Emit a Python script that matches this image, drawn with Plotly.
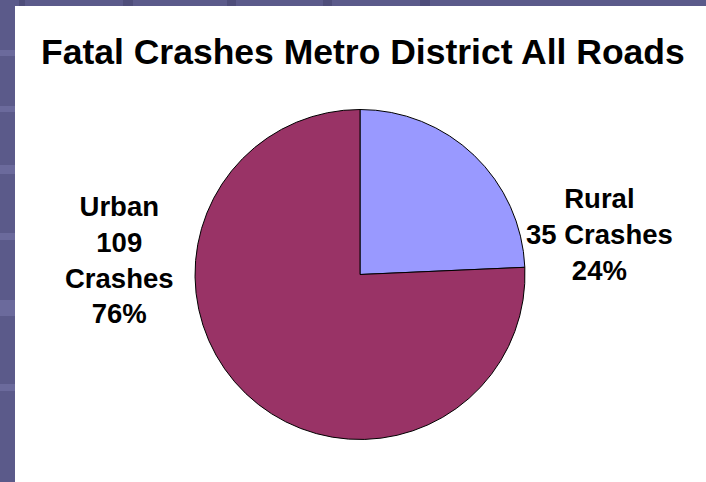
import plotly.graph_objects as go

# Fatal crash counts by road type
labels = ["Rural", "Urban"]
crashes = [35, 109]
colors = ["#9999FF", "#993366"]

W, H = 706, 482
total = sum(crashes)
pcts = [round(100 * c / total) for c in crashes]

fig = go.Figure(
    go.Pie(
        labels=labels,
        values=crashes,
        sort=False,
        direction="clockwise",
        rotation=0,
        textinfo="none",
        hoverinfo="label+value+percent",
        marker=dict(colors=colors, line=dict(color="#000000", width=1)),
        domain=dict(x=[195 / W, 525 / W], y=[(H - 440) / H, (H - 109) / H]),
        showlegend=False,
    )
)

# Slide frame: purple border on left and top, white panel
shapes = [
    dict(type="rect", xref="paper", yref="paper", x0=0, x1=1, y0=0, y1=1,
         fillcolor="#5b5a8a", line=dict(width=0), layer="below"),
]
for y0, y1 in [(50, 56), (106, 112), (165, 174), (233, 240), (300, 316), (384, 391)]:
    shapes.append(dict(type="rect", xref="paper", yref="paper", x0=0, x1=15 / W,
                       y0=1 - y1 / H, y1=1 - y0 / H,
                       fillcolor="#6b6a9c", line=dict(width=0), layer="below"))
for x0, x1 in [(19, 25), (123, 133), (227, 236), (323, 332), (420, 430)]:
    shapes.append(dict(type="rect", xref="paper", yref="paper", x0=x0 / W, x1=x1 / W,
                       y0=1 - 6 / H, y1=1,
                       fillcolor="#4e4d7a", line=dict(width=0), layer="below"))
shapes.append(dict(type="rect", xref="paper", yref="paper", x0=15 / W, x1=1,
                   y0=0, y1=1 - 6 / H, fillcolor="#FFFFFF",
                   line=dict(width=0), layer="below"))

font_fam = "Arial, Liberation Sans, sans-serif"
annotations = [
    dict(text="<b>Fatal Crashes Metro District All Roads</b>", x=363.5 / W, y=1 - 52 / H,
         xref="paper", yref="paper", showarrow=False, xanchor="center", yanchor="middle",
         font=dict(family=font_fam, size=35.5, color="#000000")),
    dict(text=f"<b>{labels[0]}<br>{crashes[0]} Crashes<br>{pcts[0]}%</b>",
         x=599 / W, y=1 - 234 / H, xref="paper", yref="paper", showarrow=False,
         xanchor="center", yanchor="middle", align="center",
         font=dict(family=font_fam, size=27.5, color="#000000")),
    dict(text=f"<b>{labels[1]}<br>{crashes[1]}<br>Crashes<br>{pcts[1]}%</b>",
         x=119 / W, y=1 - 260 / H, xref="paper", yref="paper", showarrow=False,
         xanchor="center", yanchor="middle", align="center",
         font=dict(family=font_fam, size=27.5, color="#000000")),
]

fig.update_layout(
    width=W, height=H,
    margin=dict(l=0, r=0, t=0, b=0),
    paper_bgcolor="#FFFFFF",
    shapes=shapes,
    annotations=annotations,
)

fig.write_html("out.html")
